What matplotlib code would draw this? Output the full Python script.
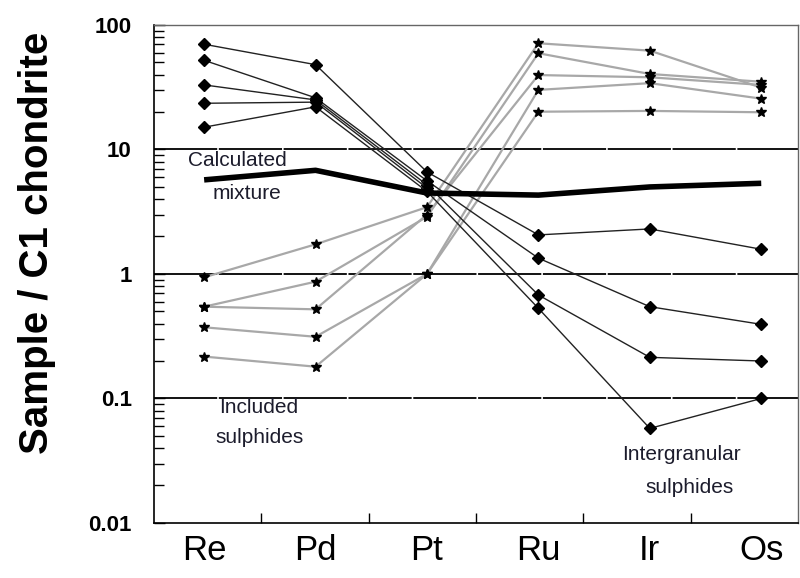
import numpy as np
import matplotlib
matplotlib.use("Agg")
import matplotlib.pyplot as plt
from matplotlib.ticker import FixedLocator, NullFormatter, LogLocator

elements = ["Re", "Pd", "Pt", "Ru", "Ir", "Os"]
nan = np.nan

# Intergranular sulphides (diamonds)
d1 = [70, 48, 6.6, 2.06, 2.30, 1.58]
d2 = [52, 26, 5.6, 1.34, 0.546, 0.394]
d3 = [33, 25, 5.2, 0.678, 0.214, 0.20]
d4 = [23.5, 24, 4.9, nan, nan, nan]
d5 = [15.1, 22, 4.6, 0.53, 0.0575, 0.10]
diamond_series = [d1, d2, d3, d4, d5]

# Included sulphides (stars)
s1 = [0.94, 1.73, 3.44, 71.3, 62.2, 31.4]
s2 = [0.546, 0.867, 2.88, 59.3, 40.4, 35.0]
s3 = [0.546, 0.52, 3.0, 39.6, 38.0, 33.0]
s4 = [0.373, 0.313, 1.0, 30.1, 34.1, 25.6]
s5 = [0.217, 0.18, 1.0, 20.1, 20.4, 19.9]
star_series = [s1, s2, s3, s4, s5]

# Calculated mixture
mixture = [5.7, 6.8, 4.47, 4.3, 5.0, 5.35]

ytick_vals = [0.01, 0.1, 1, 10, 100]
ytick_labels = ["0.01", "0.1", "1", "10", "100"]

fam = ["Liberation Sans", "DejaVu Sans"]

fig = plt.figure(figsize=(8, 5.78), dpi=100)
ax = fig.add_axes([0.1925, 0.0952, 0.805, 0.8616])
x = np.arange(1, len(elements) + 1)

ax.set_yscale("log")
ax.set_ylim(0.01, 100)
ax.set_xlim(0.55, 6.33)

# horizontal reference lines
for v in [0.1, 1, 10]:
    ax.axhline(v, color="black", lw=1.3, dashes=(35, 0.9), zorder=1)

for s in star_series:
    ax.plot(x, s, color="#a8a8a8", lw=1.6, zorder=2)
    ax.plot(x, s, linestyle="none", marker="*", ms=7, color="black", zorder=4)

for s in diamond_series:
    ax.plot(x, s, color="#222222", lw=1.0, marker="D", ms=6, mfc="black",
            mec="black", zorder=3)

ax.plot(x, mixture, color="black", lw=4, solid_capstyle="butt", zorder=5)

# axes styling
for side in ["top", "right"]:
    ax.spines[side].set_color("#666666")
    ax.spines[side].set_linewidth(1.0)
for side in ["left", "bottom"]:
    ax.spines[side].set_color("black")
    ax.spines[side].set_linewidth(1.2)

ax.set_xticks(x)
ax.set_xticklabels(elements, fontsize=25, family=fam)
lo, hi = ax.get_xlim()
ax.xaxis.set_minor_locator(FixedLocator(np.linspace(lo, hi, 7)[1:-1]))
ax.tick_params(axis="x", which="major", length=0, pad=8)
ax.tick_params(axis="x", which="minor", direction="in", length=7, width=1)

ax.yaxis.set_major_locator(FixedLocator(ytick_vals))
ax.set_yticklabels(ytick_labels, fontsize=16, family=fam, fontweight="bold")
ax.yaxis.set_minor_locator(LogLocator(base=10, subs=np.arange(2, 10), numticks=20))
ax.yaxis.set_minor_formatter(NullFormatter())
ax.tick_params(axis="y", which="both", direction="in", length=7, width=1, pad=16)
ax.tick_params(axis="y", which="major", length=8)

ax.set_ylabel("Sample / C1 chondrite", fontsize=29, family=fam,
              fontweight="bold")
ax.yaxis.set_label_coords(-0.152, 0.562)

tc = "#1c1c2c"
tf = dict(fontsize=15, family=fam, color=tc, ha="center", va="center", zorder=6)
ax.text(1.30, 8.2, "Calculated", **tf)
ax.text(1.38, 4.45, "mixture", **tf)
ax.text(1.49, 0.084, "Included", **tf)
ax.text(1.50, 0.049, "sulphides", **tf)
ax.text(5.28, 0.0352, "Intergranular", **tf)
ax.text(5.36, 0.0191, "sulphides", **tf)

fig.savefig("out.png", dpi=100)
